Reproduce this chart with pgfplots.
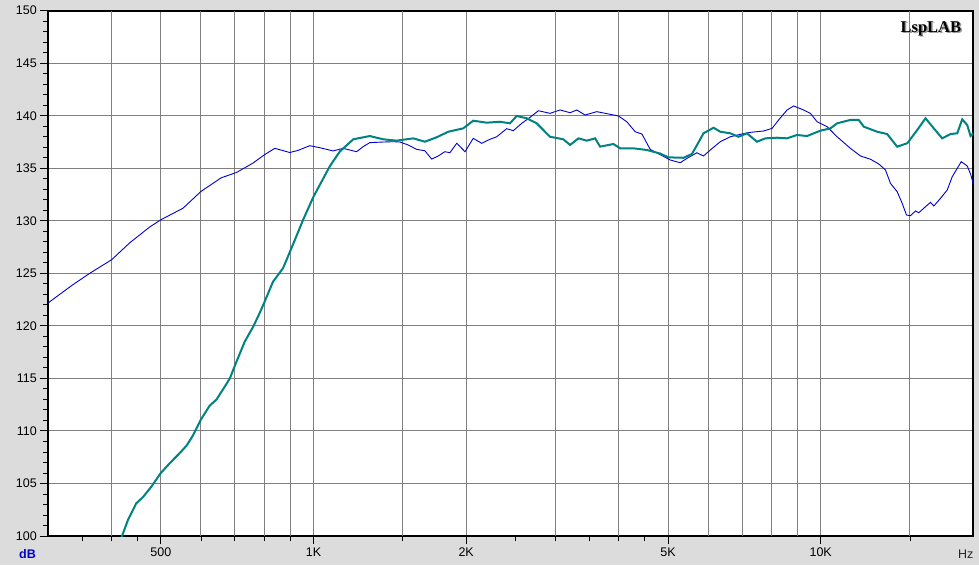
\documentclass[border=0pt]{standalone}
\usepackage{pgfplots}
\pgfplotsset{compat=1.18}
\usepackage{fontspec}
\setmainfont{Liberation Sans}
\newfontfamily\lspfont{Liberation Serif}
\definecolor{bgc}{RGB}{220,220,220}
\definecolor{tealc}{RGB}{0,130,128}
\definecolor{bluec}{RGB}{0,0,210}
\definecolor{gridc}{RGB}{128,128,128}
\begin{document}
\begin{tikzpicture}
\useasboundingbox[fill=bgc] (-48.3pt,-29pt) rectangle (930.7pt,536pt);
\begin{axis}[name=ax, at={(0,0)}, anchor=south west, scale only axis,
  width=925pt, height=525.3pt,
  xmode=log, xmin=300, xmax=20000, ymin=100, ymax=150,
  axis background/.style={fill=white},
  axis line style={line width=2pt, black},
  tick align=outside, xtick pos=bottom, ytick pos=left,
  xtick={500,1000,2000,5000,10000}, xticklabels={500,1K,2K,5K,10K},
  minor xtick={350,400,450,600,700,800,900,1500,2500,3000,3500,4000,4500,15000},
  extra x ticks={400,600,700,800,900,1500,3000,4000,6000,7000,8000,9000,15000},
  extra x tick labels={},
  extra x tick style={grid=major, major tick length=0pt},
  ytick={100,105,...,150}, minor y tick num=4,
  xmajorgrids, ymajorgrids,
  major grid style={gridc, line width=1pt},
  major tick length=8pt, minor tick length=5pt,
  every tick/.style={black, line width=0.9pt},
  tick label style={font=\fontsize{12.5}{14}\selectfont},
  /pgf/number format/assume math mode=true,
  yticklabel style={/pgf/number format/1000 sep={}},
]
\addplot[bluec, line width=0.9pt, no markers] coordinates {
(300,122.2) (335,123.9) (362,125.0) (400,126.3) (434,127.9) (475,129.4) (500,130.1)
(553,131.2) (600,132.8) (658,134.1) (705,134.6) (760,135.5) (801,136.3) (839,136.9)
(898,136.5) (932,136.7) (983,137.15) (1029,136.96) (1093,136.65) (1144,136.9)
(1216,136.58) (1253,137.06) (1291,137.44) (1372,137.5) (1436,137.53) (1481,137.5)
(1537,137.22) (1597,136.8) (1658,136.67) (1710,135.88) (1762,136.17) (1816,136.58)
(1858,136.48) (1916,137.38) (1990,136.58) (2065,137.85) (2146,137.38) (2228,137.76)
(2297,138.0) (2404,138.77) (2477,138.58) (2574,139.28) (2673,139.85) (2776,140.48)
(2927,140.23) (3064,140.55) (3206,140.29) (3305,140.55) (3431,140.07) (3619,140.39)
(3844,140.14) (3992,139.98) (4148,139.43) (4308,138.48) (4442,138.26) (4612,136.8)
(4826,136.3) (5050,135.79) (5286,135.53) (5451,135.95) (5702,136.48) (5875,136.17)
(6058,136.74) (6340,137.53) (6634,138.0) (6942,138.23) (7265,138.42) (7718,138.55)
(8020,138.8) (8263,139.6) (8584,140.55) (8845,140.93) (9256,140.55) (9543,140.23)
(9838,139.43) (10295,138.96) (10775,138.0) (11446,136.9) (11981,136.17) (12538,135.86)
(13019,135.41) (13420,134.84) (13729,133.57) (14152,132.77) (14478,131.67)
(14764,130.55) (15036,130.49) (15380,130.94) (15612,130.77) (16094,131.34)
(16463,131.76) (16714,131.41) (17232,132.14) (17764,132.93) (18173,134.2)
(18592,135.0) (18934,135.63) (19455,135.22) (19749,134.46) (20000,133.5)
};
\addplot[tealc, line width=2pt, no markers] coordinates {
(410,98.8) (420,100.1) (430.5,101.5) (447,103.1) (461,103.7) (479,104.7) (500,106.0)
(520,106.9) (545,107.9) (562,108.6) (579,109.6) (600,111.1) (624,112.4) (644,113.0)
(668,114.2) (684,115.0) (705,116.6) (732,118.5) (760,119.9) (783,121.2) (801,122.3)
(832,124.2) (871,125.5) (912,127.8) (954,130.1) (1000,132.3) (1077,135.2) (1127,136.6)
(1198,137.76) (1291,138.07) (1372,137.76) (1458,137.63) (1573,137.85) (1658,137.53)
(1749,137.95) (1844,138.48) (1974,138.8) (2065,139.53) (2195,139.34) (2332,139.43)
(2440,139.28) (2516,139.98) (2633,139.76) (2755,139.28) (2927,138.0) (3109,137.76)
(3206,137.22) (3330,137.85) (3458,137.63) (3592,137.85) (3674,137.06) (3903,137.31)
(4023,136.9) (4274,136.9) (4543,136.74) (4826,136.4) (5012,136.04) (5366,136.0)
(5574,136.36) (5702,137.2) (5875,138.33) (6149,138.86) (6340,138.48) (6634,138.33)
(6888,138.0) (7155,138.33) (7489,137.53) (7779,137.85) (8202,137.91) (8584,137.85)
(8983,138.17) (9402,138.07) (9987,138.58) (10452,138.8) (10775,139.28) (11446,139.6)
(11886,139.6) (12162,138.96) (12924,138.48) (13521,138.26) (14152,137.06)
(14814,137.38) (15500,138.64) (16094,139.76) (16714,138.8) (17363,137.85)
(18030,138.26) (18592,138.33) (19017,139.66) (19455,139.12) (19749,138.07) (20000,138.33)
};
\end{axis}
\node[anchor=base west, inner sep=0, text=bluec, font=\fontsize{12.5}{14}\selectfont\bfseries]
  at ([xshift=-29.3pt, yshift=-22pt]ax.south west) {dB};
\node[anchor=base west, inner sep=0, text=black!85, font=\fontsize{12.5}{14}\selectfont]
  at ([xshift=-15.3pt, yshift=-22pt]ax.south east) {Hz};
\node[anchor=north east, inner sep=0, text=black!40, font=\lspfont\fontsize{16.5}{18}\selectfont\bfseries]
  at ([xshift=-10.5pt, yshift=-11.8pt]ax.north east) {LspLAB};
\node[anchor=north east, inner sep=0, text=black, font=\lspfont\fontsize{16.5}{18}\selectfont\bfseries]
  at ([xshift=-12pt, yshift=-10.3pt]ax.north east) {LspLAB};
\end{tikzpicture}
\end{document}
